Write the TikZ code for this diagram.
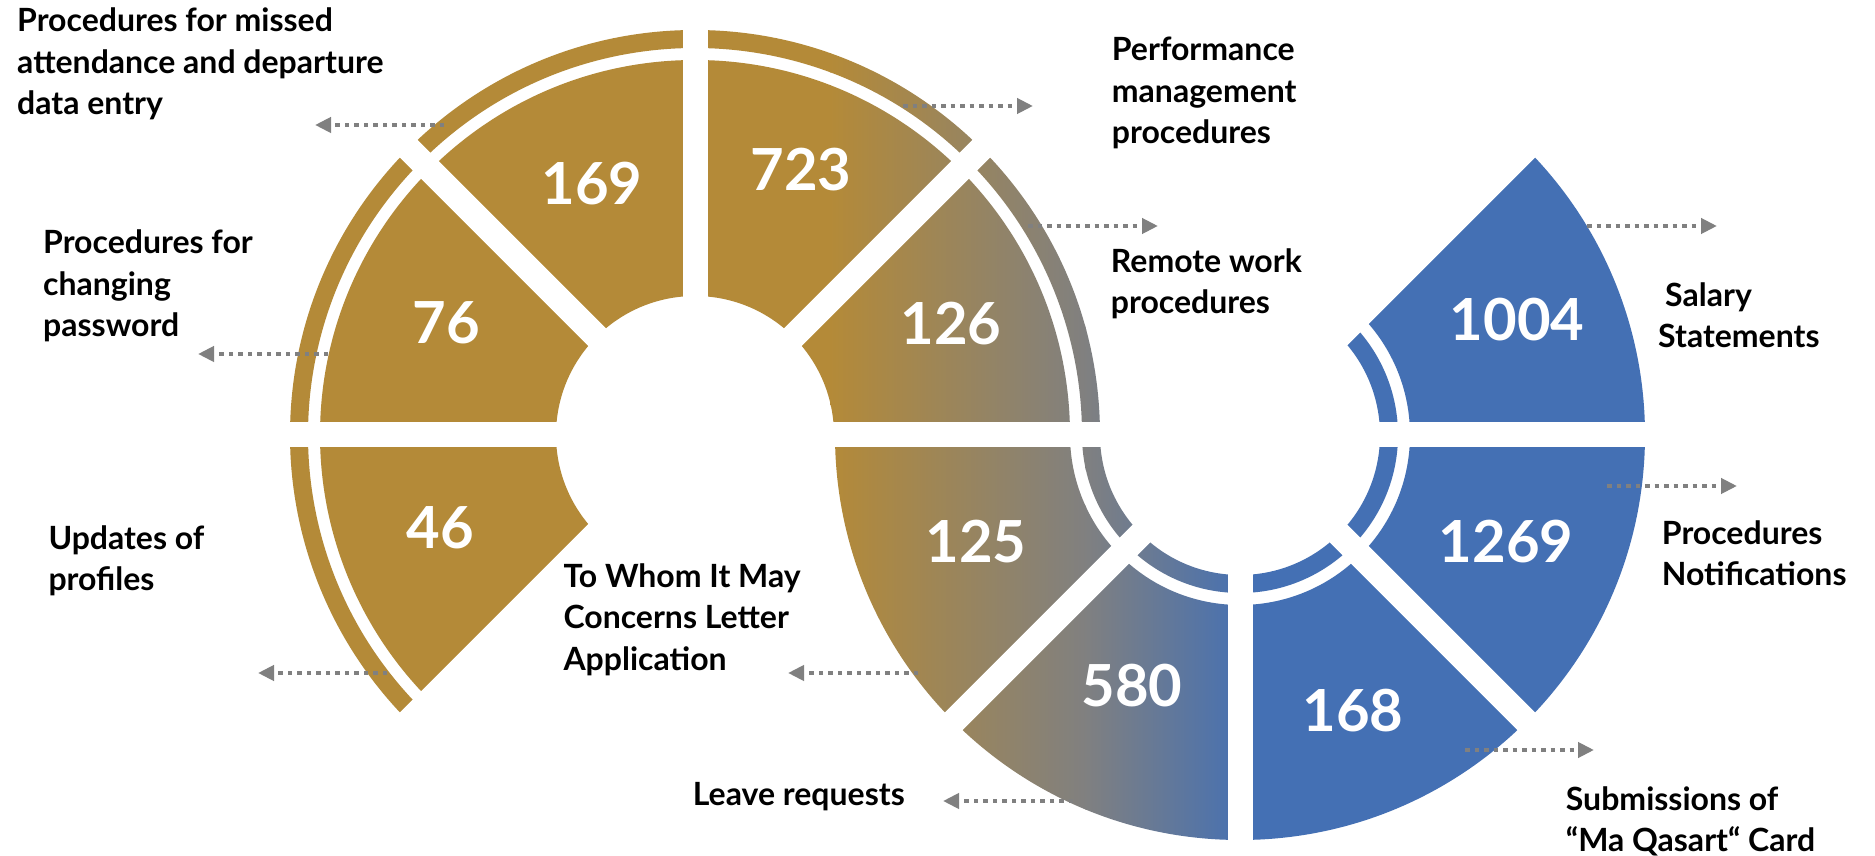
\documentclass[tikz,border=0pt]{standalone}
\usepackage{fontspec}
\setmainfont{Lato}
\usetikzlibrary{arrows.meta}

\definecolor{ringgold}{RGB}{180,138,56}
\definecolor{midgray}{RGB}{128,128,128}
\definecolor{ringblue}{RGB}{68,112,180}
\definecolor{leadgray}{RGB}{128,128,128}

\tikzset{
  gapline/.style={white, line width=25pt},
  num/.style={text=white, inner sep=0pt, font=\fontsize{58}{60}\selectfont\bfseries},
  lbl/.style={anchor=base west, align=left, inner sep=0pt, font=\fontsize{32}{41.5}\selectfont\bfseries},
  leader/.style={leadgray, line width=4.5pt, dash pattern=on 4.5pt off 5pt, -{Triangle[length=16pt,width=15pt]}}
}

\begin{document}
\begin{tikzpicture}[x=1pt,y=1pt]
\useasboundingbox[fill=white] (0,0) rectangle (1875,855);
\coordinate (L) at (695,420);
\coordinate (R) at (1240,420);
% both rings (segments + thin bands), coloured through one clip
\begin{scope}
\clip ([shift={(0:405)}]L) arc[start angle=0,end angle=225,radius=405pt] -- ([shift={(225:387)}]L) arc[start angle=225,end angle=0,radius=387pt] -- cycle
  ([shift={(0:375)}]L) arc[start angle=0,end angle=225,radius=375pt] -- ([shift={(225:139)}]L) arc[start angle=225,end angle=0,radius=139pt] -- cycle
  ([shift={(180:405)}]R) arc[start angle=180,end angle=405,radius=405pt] -- ([shift={(45:170)}]R) arc[start angle=405,end angle=180,radius=170pt] -- cycle
  ([shift={(180:158)}]R) arc[start angle=180,end angle=405,radius=158pt] -- ([shift={(45:140)}]R) arc[start angle=405,end angle=180,radius=140pt] -- cycle;
\fill[ringgold] (0,0) rectangle (831,855);
\shade[left color=ringgold,right color=midgray] (830,0) rectangle (1086,855);
\shade[left color=midgray,right color=ringblue] (1085,0) rectangle (1251,855);
\fill[ringblue] (1250,0) rectangle (1875,855);
\end{scope}
% white cuts between the parts
\foreach \a in {45,90,135,225} \draw[gapline] (L) -- ++(\a:420);
\foreach \a in {45,225,270,315} \draw[gapline] (R) -- ++(\a:420);
\draw[gapline] ([xshift=-420pt]L) -- ([xshift=420pt]R);

% values
\foreach \v/\x/\y in {169/592/671, 723/801/685.5, 76/446/532, 126/951/531, 46/440/327,
    125/976/313, 580/1132/169, 168/1353/144, 1269/1506/313, 1004/1517/535.5}
  \node[num] (n\v) at (\x,\y) {\v};

% labels (placed by the baseline of their last line)
\node[lbl] (lmissed) at (17,740.3) {Procedures for missed\\attendance and departure\\data entry};
\node[lbl] (lpassword) at (43,518) {Procedures for\\changing\\password};
\node[lbl] (lperform) at (1111.7,711) {Performance\\management\\procedures};
\node[lbl] (lremote) at (1110.7,541) {Remote work\\procedures};
\node[lbl] (lsalary) at (1658,507) {\hspace{7pt}Salary\\Statements};
\node[lbl] (lprofiles) at (48.3,264) {Updates of\\profiles};
\node[lbl] (lletter) at (563.3,185) {To Whom It May\\Concerns Letter\\Application};
\node[lbl] (lleave) at (692.7,49.3) {Leave requests};
\node[lbl] (lnotify) at (1661.7,269.3) {Procedures\\Notifications};
\node[lbl] (lcard) at (1565.7,3.3) {Submissions of\\“Ma Qasart“ Card};

% dotted leaders
\foreach \n/\sx/\sy/\tx in {missed/444/730/315, password/328/501/198, perform/903/749/1033,
    remote/1028/629/1158, salary/1587/629/1717, profiles/387/182/258, letter/918/182/788,
    leave/1073/54/943, notify/1607/369/1737, card/1465/105/1594} {
  \coordinate (s\n) at (\sx,\sy);
  \coordinate (t\n) at (\tx,\sy);
  \draw[leader] (s\n) -- (t\n);
}
\end{tikzpicture}
\end{document}
